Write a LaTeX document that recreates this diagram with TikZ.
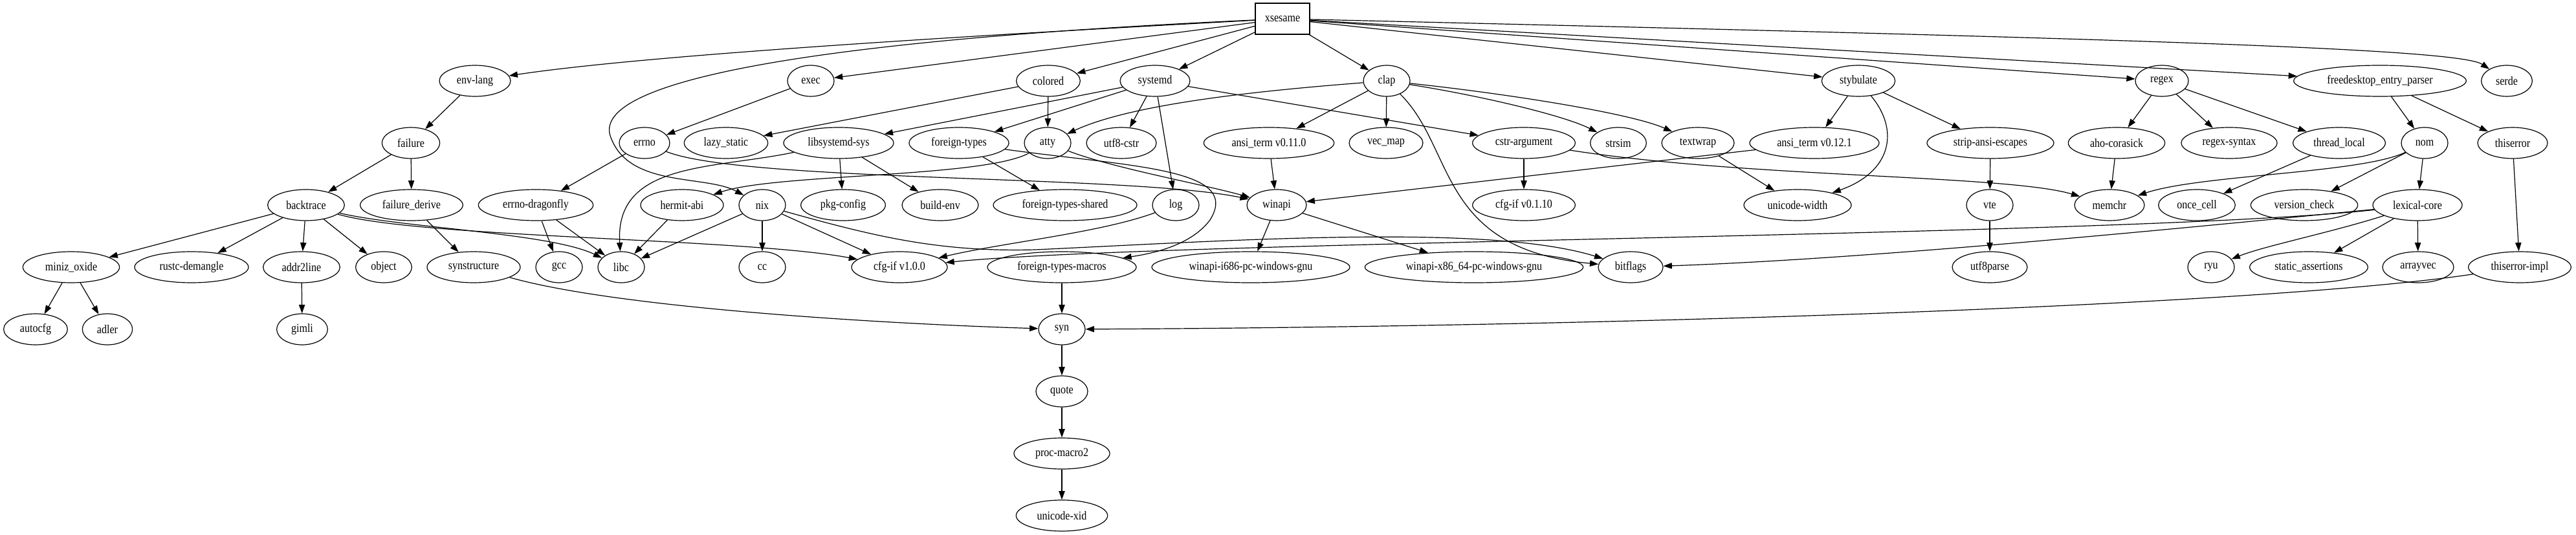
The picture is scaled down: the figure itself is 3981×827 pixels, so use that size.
\documentclass[tikz,border=0pt]{standalone}
\usepackage{fontspec}
\setmainfont{Liberation Serif}[FakeStretch=0.86]
\usetikzlibrary{shapes.geometric,arrows.meta}
\begin{document}
\begin{tikzpicture}[x=0.75pt,y=-0.75pt,
 el/.style={ellipse,draw,line width=0.9pt,minimum height=36pt,inner sep=0pt,font=\fontsize{14}{16}\selectfont},
 box/.style={rectangle,draw,line width=0.9pt,minimum height=36pt,minimum width=63pt,inner sep=0pt,font=\fontsize{14}{16}\selectfont},
 dep/.style={-{Triangle[length=10pt,width=7pt]},line width=0.9pt}]
\useasboundingbox (0,0) rectangle (3981,827);
% row 0
\node[box] (xsesame) at (1982,29) {xsesame};
% row 1
\node[el,minimum width=82.5pt] (envlang) at (734,125) {env-lang};
\node[el,minimum width=54pt] (exec) at (1253,125) {exec};
\node[el,minimum width=74pt] (colored) at (1620,125) {colored};
\node[el,minimum width=81pt] (systemd) at (1785,125) {systemd};
\node[el,minimum width=54pt] (clap) at (2143,125) {clap};
\node[el,minimum width=85pt] (stybulate) at (2872,125) {stybulate};
\node[el,minimum width=61.5pt] (regex) at (3341,125) {regex};
\node[el,minimum width=200pt] (fep) at (3678,125) {freedesktop\_entry\_parser};
\node[el,minimum width=59pt] (serde) at (3874,125) {serde};
% row 2
\node[el,minimum width=67pt] (failure) at (635,221) {failure};
\node[el,minimum width=58.5pt] (errno) at (996,221) {errno};
\node[el,minimum width=97pt] (lazystatic) at (1122,221) {lazy\_static};
\node[el,minimum width=127.5pt] (libsystemdsys) at (1296,221) {libsystemd-sys};
\node[el,minimum width=115.5pt] (foreigntypes) at (1482,221) {foreign-types};
\node[el,minimum width=54pt] (atty) at (1619,221) {atty};
\node[el,minimum width=81pt] (utfcstr) at (1733,221) {utf8-cstr};
\node[el,minimum width=151pt] (ansiA) at (1961,221) {ansi\_term v0.11.0};
\node[el,minimum width=85.5pt] (vecmap) at (2142,221) {vec\_map};
\node[el,minimum width=119pt] (cstrarg) at (2355,221) {cstr-argument};
\node[el,minimum width=65pt] (strsim) at (2501,221) {strsim};
\node[el,minimum width=84pt] (textwrap) at (2624,221) {textwrap};
\node[el,minimum width=150pt] (ansiB) at (2804,221) {ansi\_term v0.12.1};
\node[el,minimum width=147pt] (stripansi) at (3076,221) {strip-ansi-escapes};
\node[el,minimum width=112pt] (aho) at (3271,221) {aho-corasick};
\node[el,minimum width=111pt] (regexsyntax) at (3445,221) {regex-syntax};
\node[el,minimum width=107pt] (threadlocal) at (3615,221) {thread\_local};
\node[el,minimum width=54pt] (nom) at (3747,221) {nom};
\node[el,minimum width=81pt] (thiserror) at (3883,221) {thiserror};
% row 3
\node[el,minimum width=89pt] (backtrace) at (473,317) {backtrace};
\node[el,minimum width=119pt] (failurederive) at (636,317) {failure\_derive};
\node[el,minimum width=133pt] (errnodf) at (828,317) {errno-dragonfly};
\node[el,minimum width=96pt] (hermit) at (1054,317) {hermit-abi};
\node[el,minimum width=54pt] (nix) at (1178,317) {nix};
\node[el,minimum width=98pt] (pkgconfig) at (1303,317) {pkg-config};
\node[el,minimum width=88.5pt] (buildenv) at (1453,317) {build-env};
\node[el,minimum width=166.5pt] (ftshared) at (1646,317) {foreign-types-shared};
\node[el,minimum width=54pt] (log) at (1817,317) {log};
\node[el,minimum width=69pt] (winapi) at (1973,317) {winapi};
\node[el,minimum width=119pt] (cfgifold) at (2355,317) {cfg-if v0.1.10};
\node[el,minimum width=124.5pt] (unicodewidth) at (2778,317) {unicode-width};
\node[el,minimum width=54pt] (vte) at (3075,317) {vte};
\node[el,minimum width=81pt] (memchr) at (3260,317) {memchr};
\node[el,minimum width=89pt] (oncecell) at (3395,317) {once\_cell};
\node[el,minimum width=124pt] (versioncheck) at (3561,317) {version\_check};
\node[el,minimum width=103.5pt] (lexical) at (3736,317) {lexical-core};
% row 4
\node[el,minimum width=112pt] (miniz) at (110,413) {miniz\_oxide};
\node[el,minimum width=132pt] (rustcdm) at (296,413) {rustc-demangle};
\node[el,minimum width=89pt] (addrline) at (466,413) {addr2line};
\node[el,minimum width=65pt] (object) at (593,413) {object};
\node[el,minimum width=108pt] (synstructure) at (732,413) {synstructure};
\node[el,minimum width=54pt] (gcc) at (864,413) {gcc};
\node[el,minimum width=54pt] (libc) at (960,413) {libc};
\node[el,minimum width=54pt] (cc) at (1178,413) {cc};
\node[el,minimum width=111pt] (cfgifnew) at (1390,413) {cfg-if v1.0.0};
\node[el,minimum width=172.5pt] (ftmacros) at (1641,413) {foreign-types-macros};
\node[el,minimum width=229.5pt] (winism) at (1933,413) {winapi-i686-pc-windows-gnu};
\node[el,minimum width=253pt] (winxsf) at (2278,413) {winapi-x86\_64-pc-windows-gnu};
\node[el,minimum width=75pt] (bitflags) at (2520,413) {bitflags};
\node[el,minimum width=87pt] (utfparse) at (3075,413) {utf8parse};
\node[el,minimum width=54pt] (ryu) at (3417,413) {ryu};
\node[el,minimum width=137pt] (staticassert) at (3568,413) {static\_assertions};
\node[el,minimum width=82.5pt] (arrayvec) at (3737,413) {arrayvec};
\node[el,minimum width=119pt] (thiserrorimpl) at (3894,413) {thiserror-impl};
% row 5+
\node[el,minimum width=74pt] (autocfg) at (55,509) {autocfg};
\node[el,minimum width=58pt] (adler) at (166,509) {adler};
\node[el,minimum width=59pt] (gimli) at (467,509) {gimli};
\node[el,minimum width=54pt] (syn) at (1641,509) {syn};
\node[el,minimum width=60pt] (quote) at (1641,605) {quote};
\node[el,minimum width=111pt] (procmacro) at (1641,701) {proc-macro2};
\node[el,minimum width=106pt] (unicodexid) at (1641,797) {unicode-xid};
% edges from xsesame
\draw[dep] (xsesame) .. controls (1500,55) and (1000,85) .. (envlang);
\draw[dep] (xsesame) -- (exec);
\draw[dep] (xsesame) -- (colored);
\draw[dep] (xsesame) -- (systemd);
\draw[dep] (xsesame) -- (clap);
\draw[dep] (xsesame) -- (stybulate);
\draw[dep] (xsesame) -- (regex);
\draw[dep] (xsesame) -- (fep);
\draw[dep] (xsesame) .. controls (3300,60) and (3800,75) .. (serde);
\draw[dep] (xsesame) .. controls (1300,60) and (900,120) .. (945,215) .. controls (975,290) and (1090,270) .. (nix);
% left part
\draw[dep] (envlang) -- (failure);
\draw[dep] (failure) -- (backtrace);
\draw[dep] (failure) -- (failurederive);
\draw[dep] (backtrace) -- (miniz);
\draw[dep] (backtrace) -- (rustcdm);
\draw[dep] (backtrace) -- (addrline);
\draw[dep] (backtrace) -- (object);
\draw[dep] (backtrace) .. controls (620,352) and (850,360) .. (libc);
\draw[dep] (backtrace) .. controls (650,368) and (1150,368) .. (cfgifnew);
\draw[dep] (miniz) -- (autocfg);
\draw[dep] (miniz) -- (adler);
\draw[dep] (addrline) -- (gimli);
\draw[dep] (failurederive) -- (synstructure);
\draw[dep] (synstructure) .. controls (950,475) and (1350,500) .. (syn);
\draw[dep] (exec) -- (errno);
\draw[dep] (errno) -- (errnodf);
\draw[dep] (errno) .. controls (1150,282) and (1750,270) .. (winapi);
\draw[dep] (errnodf) -- (gcc);
\draw[dep] (errnodf) -- (libc);
\draw[dep] (hermit) -- (libc);
\draw[dep] (nix) -- (libc);
\draw[dep] (nix) -- (cc);
\draw[dep] (nix) -- (cfgifnew);
\draw[dep] (nix) .. controls (1350,365) and (1450,390) .. (1600,386) .. controls (1900,372) and (2300,345) .. (bitflags);
\draw[dep] (colored) -- (lazystatic);
\draw[dep] (colored) -- (atty);
\draw[dep] (systemd) -- (libsystemdsys);
\draw[dep] (systemd) -- (foreigntypes);
\draw[dep] (systemd) -- (utfcstr);
\draw[dep] (systemd) -- (log);
\draw[dep] (systemd) -- (cstrarg);
\draw[dep] (libsystemdsys) .. controls (1100,262) and (950,250) .. (libc);
\draw[dep] (libsystemdsys) -- (pkgconfig);
\draw[dep] (libsystemdsys) -- (buildenv);
\draw[dep] (foreigntypes) -- (ftshared);
\draw[dep] (foreigntypes) .. controls (1750,258) and (1920,260) .. (1870,340) .. controls (1840,380) and (1780,392) .. (ftmacros);
\draw[dep] (atty) .. controls (1520,275) and (1200,268) .. (hermit);
\draw[dep] (atty) .. controls (1720,260) and (1860,285) .. (winapi);
\draw[dep] (log) .. controls (1700,360) and (1550,375) .. (cfgifnew);
\draw[dep] (ftmacros) -- (syn);
\draw[dep] (syn) -- (quote);
\draw[dep] (quote) -- (procmacro);
\draw[dep] (procmacro) -- (unicodexid);
% middle part
\draw[dep] (clap) .. controls (1950,140) and (1750,160) .. (atty);
\draw[dep] (clap) -- (ansiA);
\draw[dep] (clap) -- (vecmap);
\draw[dep] (clap) .. controls (2300,150) and (2420,180) .. (strsim);
\draw[dep] (clap) .. controls (2330,145) and (2520,175) .. (textwrap);
\draw[dep] (clap) .. controls (2250,230) and (2220,385) .. (bitflags);
\draw[dep] (ansiA) -- (winapi);
\draw[dep] (winapi) -- (winism);
\draw[dep] (winapi) -- (winxsf);
\draw[dep] (cstrarg) -- (cfgifold);
\draw[dep] (cstrarg) .. controls (2700,275) and (3100,270) .. (memchr);
\draw[dep] (ansiB) -- (winapi);
\draw[dep] (textwrap) -- (unicodewidth);
\draw[dep] (stybulate) -- (ansiB);
\draw[dep] (stybulate) .. controls (2935,200) and (2925,265) .. (unicodewidth);
\draw[dep] (stybulate) -- (stripansi);
\draw[dep] (stripansi) -- (vte);
\draw[dep] (vte) -- (utfparse);
% right part
\draw[dep] (regex) -- (aho);
\draw[dep] (regex) -- (regexsyntax);
\draw[dep] (regex) -- (threadlocal);
\draw[dep] (aho) -- (memchr);
\draw[dep] (threadlocal) -- (oncecell);
\draw[dep] (fep) -- (nom);
\draw[dep] (fep) -- (thiserror);
\draw[dep] (nom) .. controls (3650,268) and (3400,270) .. (memchr);
\draw[dep] (nom) -- (versioncheck);
\draw[dep] (nom) -- (lexical);
\draw[dep] (lexical) .. controls (3600,360) and (3500,380) .. (ryu);
\draw[dep] (lexical) -- (staticassert);
\draw[dep] (lexical) -- (arrayvec);
\draw[dep] (lexical) .. controls (3400,350) and (2900,400) .. (bitflags);
\draw[dep] (lexical) .. controls (3300,365) and (1800,372) .. (cfgifnew);
\draw[dep] (thiserror) -- (thiserrorimpl);
\draw[dep] (thiserrorimpl) .. controls (3500,472) and (2500,505) .. (syn);
\end{tikzpicture}
\end{document}
